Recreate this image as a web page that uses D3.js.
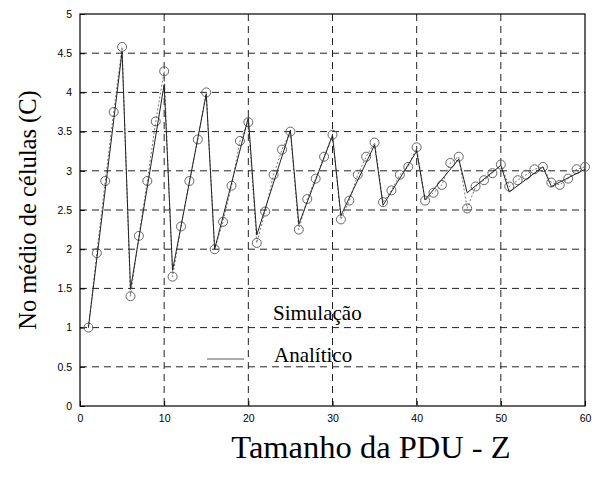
<!DOCTYPE html>
<html>
<head>
<meta charset="utf-8">
<script src="https://cdn.jsdelivr.net/npm/d3@7"></script>
<style>
  html, body { margin: 0; padding: 0; background: #fff; }
  svg { display: block; }
</style>
</head>
<body>
<svg id="chart" width="596" height="487"></svg>
<script>
// Simulated mean number of cells per PDU size Z
const simZ = d3.range(1, 61);
const simC = [
  1.00, 1.95, 2.87, 3.75, 4.58,
  1.40, 2.17, 2.87, 3.63, 4.27,
  1.65, 2.29, 2.87, 3.40, 4.00,
  2.00, 2.35, 2.81, 3.38, 3.62,
  2.08, 2.48, 2.95, 3.27, 3.50,
  2.25, 2.64, 2.90, 3.18, 3.46,
  2.38, 2.62, 2.95, 3.18, 3.36,
  2.60, 2.75, 2.95, 3.05, 3.30,
  2.62, 2.72, 2.82, 3.10, 3.18,
  2.52, 2.80, 2.88, 2.97, 3.08,
  2.80, 2.88, 2.95, 3.02, 3.05,
  2.85, 2.82, 2.90, 3.02, 3.05
];

// Analytical curve (vertices of the sawtooth)
const anaZ = [1, 5, 6, 10, 11, 15, 16, 20, 21, 25, 26, 30, 31, 35, 36, 40, 41, 45, 46, 50, 51, 55, 56, 60];
const anaC = [1.00, 4.52, 1.49, 4.10, 1.73, 3.98, 2.00, 3.68, 2.18, 3.52, 2.32, 3.45, 2.43, 3.33,
              2.56, 3.25, 2.63, 3.15, 2.72, 3.07, 2.73, 3.05, 2.80, 3.02];

const xTicks = [0, 10, 20, 30, 40, 50, 60];
const yTicks = [0, 0.5, 1, 1.5, 2, 2.5, 3, 3.5, 4, 4.5, 5];

const xTitle = "Tamanho da PDU - Z";
const yTitle = "No médio de células (C)";
const legendLabels = ["Simulação", "Analítico"];

const svg = d3.select("#chart");
const plotL = 80, plotR = 585, plotT = 14, plotB = 406;

const x = d3.scaleLinear().domain([0, 60]).range([plotL, plotR]);
const y = d3.scaleLinear().domain([0, 5]).range([plotB, plotT]);

// grid
const grid = svg.append("g").attr("stroke", "#222").attr("stroke-width", 1)
  .attr("stroke-dasharray", "7,5").attr("fill", "none");
xTicks.slice(1, -1).forEach(t => {
  grid.append("line").attr("x1", x(t)).attr("x2", x(t)).attr("y1", plotT).attr("y2", plotB);
});
yTicks.slice(1, -1).forEach(t => {
  grid.append("line").attr("x1", plotL).attr("x2", plotR).attr("y1", y(t)).attr("y2", y(t));
});

// axes with inward ticks
const xAxis = d3.axisBottom(x).tickValues(xTicks).tickSize(-5).tickPadding(9).tickFormat(d3.format("d"));
const yAxis = d3.axisLeft(y).tickValues(yTicks).tickSize(-5).tickPadding(8).tickFormat(d => String(d));

const gx = svg.append("g").attr("transform", `translate(0,${plotB})`).call(xAxis);
const gy = svg.append("g").attr("transform", `translate(${plotL},0)`).call(yAxis);
[gx, gy].forEach(g => {
  g.select(".domain").remove();
  g.selectAll(".tick line").attr("stroke", "#000");
  g.selectAll("text").attr("font-family", "Liberation Sans, Arial, sans-serif")
    .attr("font-size", 10.5).attr("fill", "#000");
});

// frame
svg.append("rect").attr("x", plotL).attr("y", plotT)
  .attr("width", plotR - plotL).attr("height", plotB - plotT)
  .attr("fill", "none").attr("stroke", "#000").attr("stroke-width", 1.2);

// simulation: dotted connector + circles
const simPts = simZ.map((z, i) => [z, simC[i]]);
svg.append("path").datum(simPts)
  .attr("d", d3.line().x(d => x(d[0])).y(d => y(d[1])))
  .attr("fill", "none").attr("stroke", "#666").attr("stroke-width", 0.9)
  .attr("stroke-dasharray", "2,2");
svg.append("g").selectAll("circle").data(simPts).join("circle")
  .attr("cx", d => x(d[0])).attr("cy", d => y(d[1])).attr("r", 4.5)
  .attr("fill", "none").attr("stroke", "#666").attr("stroke-width", 1);

// analytical line
const anaPts = anaZ.map((z, i) => [z, anaC[i]]);
svg.append("path").datum(anaPts)
  .attr("d", d3.line().x(d => x(d[0])).y(d => y(d[1])))
  .attr("fill", "none").attr("stroke", "#222").attr("stroke-width", 1);

// legend
const serif = "Liberation Serif, Times New Roman, serif";
svg.append("text").attr("x", 273).attr("y", 320).text(legendLabels[0])
  .attr("font-family", serif).attr("font-size", 21).attr("fill", "#000");
svg.append("text").attr("x", 274).attr("y", 362).text(legendLabels[1])
  .attr("font-family", serif).attr("font-size", 21).attr("fill", "#000");
svg.append("line").attr("x1", 207).attr("x2", 244).attr("y1", 359).attr("y2", 359)
  .attr("stroke", "#555").attr("stroke-width", 1);

// axis titles
svg.append("text").attr("x", 371).attr("y", 458).attr("text-anchor", "middle")
  .attr("font-family", serif).attr("font-size", 32.5).attr("fill", "#000").text(xTitle);
svg.append("text").attr("transform", "translate(36,210) rotate(-90)").attr("text-anchor", "middle")
  .attr("font-family", serif).attr("font-size", 24.5).attr("fill", "#000").text(yTitle);
</script>
</body>
</html>
